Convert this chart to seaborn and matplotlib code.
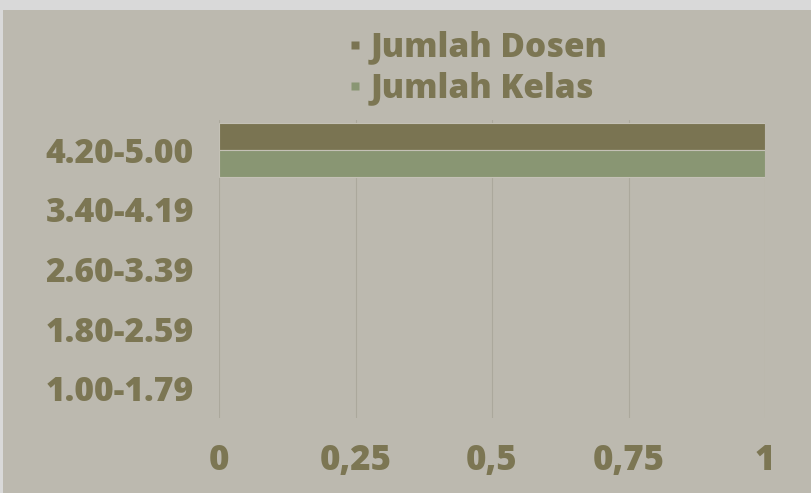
import matplotlib
matplotlib.use("Agg")
import matplotlib.pyplot as plt
from matplotlib.patches import Rectangle
from matplotlib.lines import Line2D
import seaborn as sns
import pandas as pd

# Rentang skor dan jumlah per rentang
kategori = ["4.20-5.00", "3.40-4.19", "2.60-3.39", "1.80-2.59", "1.00-1.79"]
jumlah_dosen = [1, 0, 0, 0, 0]
jumlah_kelas = [1, 0, 0, 0, 0]
seri = ["Jumlah Dosen", "Jumlah Kelas"]
x_ticks = [0, 0.25, 0.5, 0.75, 1]
x_tick_labels = ["0", "0,25", "0,5", "0,75", "1"]

warna_seri = ["#7A7452", "#899673"]
warna_teks = "#7C7653"
latar = "#BCB9AF"
tebal = "heavy"

df = pd.DataFrame({
    "kategori": kategori * 2,
    "nilai": jumlah_dosen + jumlah_kelas,
    "seri": [seri[0]] * len(kategori) + [seri[1]] * len(kategori),
})

sns.set_theme(style="white")
plt.rcParams["font.family"] = ["Open Sans", "DejaVu Sans"]
plt.rcParams["font.weight"] = tebal

fig = plt.figure(figsize=(8.11, 4.93), dpi=100, facecolor="#D9D9D9")
fig.add_artist(Rectangle((3 / 811, 0), 1, 1 - 10 / 493, transform=fig.transFigure,
                         facecolor=latar, edgecolor="none", zorder=-10))

ax = fig.add_axes([219 / 811, 1 - 418 / 493, (765 - 219) / 811, (418 - 120) / 493])
ax.set_facecolor(latar)

sns.barplot(data=df, y="kategori", x="nilai", hue="seri", orient="h",
            palette=warna_seri, width=0.91, ax=ax, legend=False,
            order=kategori, hue_order=seri, linewidth=0, saturation=1)

for p in ax.patches:
    if p.get_width() > 0:
        p.set_edgecolor("#C4C1B6")
        p.set_linewidth(0.8)

ax.set_xlim(0, 1)
ax.set_xticks(x_ticks)
ax.set_xticklabels(x_tick_labels)
ax.grid(axis="x", color="#ABA89C", linewidth=0.8)
ax.grid(axis="y", visible=False)
ax.set_axisbelow(True)
for s in ax.spines.values():
    s.set_visible(False)

ax.set_xlabel("")
ax.set_ylabel("")
ax.tick_params(axis="y", length=0, pad=18, labelsize=24.2, labelcolor=warna_teks)
ax.tick_params(axis="x", length=0, pad=18, labelsize=25, labelcolor=warna_teks)
for lbl in ax.get_xticklabels() + ax.get_yticklabels():
    lbl.set_fontweight(tebal)

handles = [Line2D([], [], linestyle="none", marker="s", markersize=6,
                  markerfacecolor=c, markeredgecolor="none") for c in warna_seri]
leg = fig.legend(handles, seri, loc="center", bbox_to_anchor=(478 / 811, 1 - 68 / 493),
                 frameon=False, handlelength=0.4, handletextpad=0.25,
                 labelspacing=0.22, prop={"size": 24, "weight": tebal})
for t in leg.get_texts():
    t.set_color(warna_teks)

fig.savefig("out.png", dpi=100, facecolor=fig.get_facecolor())
